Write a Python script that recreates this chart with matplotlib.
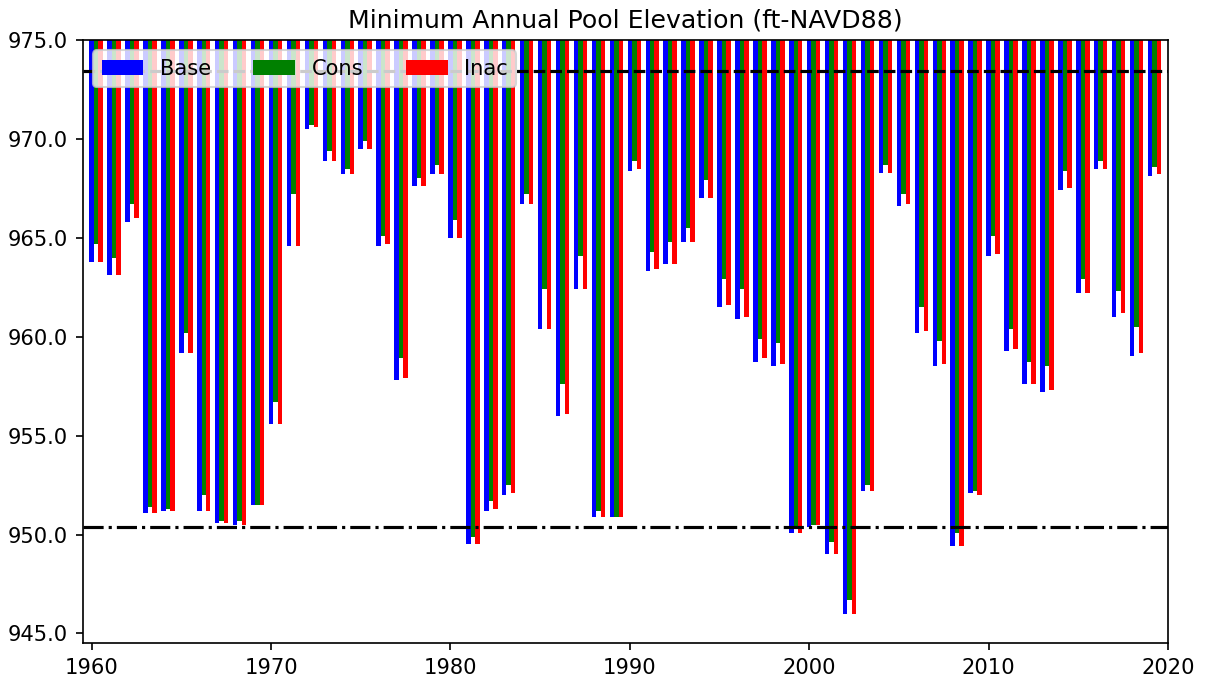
import numpy as np
import matplotlib
matplotlib.use("Agg")
import matplotlib.pyplot as plt
from matplotlib.ticker import FormatStrFormatter

# minimum annual pool elevation by water year, one list per scenario
years = list(range(1960, 2020))
base = [963.8, 963.1, 965.8, 951.1, 951.2, 959.2, 951.2, 950.6, 950.5, 951.5,
        955.6, 964.6, 970.5, 968.9, 968.2, 969.5, 964.6, 957.8, 967.6, 968.2,
        965.0, 949.5, 951.2, 952.0, 966.7, 960.4, 956.0, 962.4, 950.9, 950.9,
        968.4, 963.3, 963.7, 964.8, 967.0, 961.5, 960.9, 958.7, 958.5, 950.1,
        950.4, 949.0, 946.0, 952.2, 968.3, 966.6, 960.2, 958.5, 949.4, 952.1,
        964.1, 959.3, 957.6, 957.2, 967.4, 962.2, 968.5, 961.0, 959.0, 968.1]
cons = [964.7, 964.0, 966.7, 951.4, 951.3, 960.2, 952.0, 950.7, 950.7, 951.5,
        956.7, 967.2, 970.7, 969.4, 968.5, 969.9, 965.1, 958.9, 968.0, 968.7,
        965.9, 949.9, 951.7, 952.5, 967.2, 962.4, 957.6, 964.1, 951.2, 950.9,
        968.9, 964.3, 964.8, 965.5, 967.9, 962.9, 962.4, 959.9, 959.7, 950.4,
        950.5, 949.6, 946.7, 952.5, 968.7, 967.2, 961.5, 959.8, 950.1, 952.2,
        965.1, 960.4, 958.7, 958.5, 968.4, 962.9, 968.9, 962.3, 960.5, 968.6]
inac = [963.8, 963.1, 966.0, 951.1, 951.2, 959.2, 951.2, 950.6, 950.5, 951.5,
        955.6, 964.6, 970.6, 968.9, 968.2, 969.5, 964.7, 957.9, 967.6, 968.2,
        965.0, 949.5, 951.3, 952.1, 966.7, 960.4, 956.1, 962.4, 950.9, 950.9,
        968.5, 963.4, 963.7, 964.8, 967.0, 961.6, 961.0, 958.9, 958.6, 950.1,
        950.5, 949.0, 946.0, 952.2, 968.3, 966.7, 960.3, 958.6, 949.4, 952.0,
        964.2, 959.4, 957.6, 957.3, 967.5, 962.2, 968.5, 961.2, 959.2, 968.2]
top_line = 973.43
bottom_line = 950.4

top = 975.0
x = np.array(years, dtype=float)
w = 0.25
dpi = 151

fig = plt.figure(figsize=(1205 / dpi, 682 / dpi), dpi=dpi)
ax = fig.add_axes([0.0686, 0.0567, 0.9007, 0.8847])

for i, (vals, col, lab) in enumerate([(base, "blue", "Base"),
                                      (cons, "green", "Cons"),
                                      (inac, "red", "Inac")]):
    v = np.array(vals)
    ax.bar(x + i * w, v - top, width=w, bottom=top, color=col, label=lab)

ax.axhline(top_line, color="k", linestyle="--")
ax.axhline(bottom_line, color="k", linestyle="-.")

ax.set_xlim(1959.5, 2020)
ax.set_ylim(944.5, 975)
ax.set_yticks(np.arange(945, 976, 5))
ax.yaxis.set_major_formatter(FormatStrFormatter("%.1f"))
ax.set_title("Minimum Annual Pool Elevation (ft-NAVD88)")
ax.legend(loc="upper left", ncol=3)

fig.savefig("out.png", dpi=dpi)
